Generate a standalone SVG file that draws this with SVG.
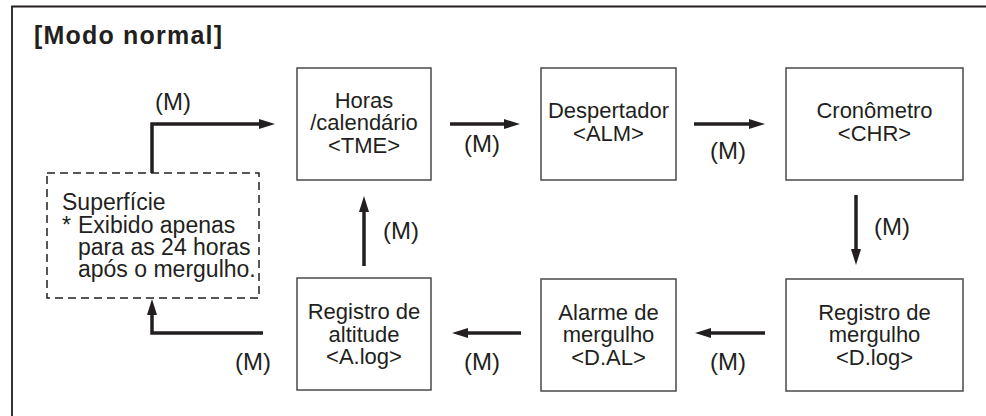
<svg xmlns="http://www.w3.org/2000/svg" width="986" height="416" viewBox="0 0 986 416">
<defs>
<marker id="ah" markerUnits="userSpaceOnUse" markerWidth="16" markerHeight="10" refX="8" refY="5" orient="auto">
<path d="M0,0 L16,5 L0,10 z" fill="#231f20"/>
</marker>
<style>
.t{font-family:"Liberation Sans",Arial,sans-serif;font-size:22px;fill:#231f20;text-anchor:middle}
.d{font-family:"Liberation Sans",Arial,sans-serif;font-size:23px;fill:#231f20}
.m{font-family:"Liberation Sans",Arial,sans-serif;font-size:24px;fill:#231f20;text-anchor:middle}
.b{fill:#fff;stroke:#4a4a4a;stroke-width:1.5}
.c{fill:none;stroke:#231f20;stroke-width:3.5;stroke-linejoin:miter;marker-end:url(#ah)}
</style>
</defs>
<rect width="986" height="416" fill="#fff"/>
<path d="M12,416 V6.5 H986" fill="none" stroke="#231f20" stroke-width="1.8"/>
<text x="34" y="44" font-family="Liberation Sans,Arial,sans-serif" font-size="25" font-weight="bold" letter-spacing="1.2" fill="#231f20">[Modo normal]</text>

<g id="connectors">
<path class="c" d="M152,173 V124 H267"/>
<path class="c" d="M450,124 H512"/>
<path class="c" d="M694,124 H757"/>
<path class="c" d="M856,195 V257"/>
<path class="c" d="M765,333 H703"/>
<path class="c" d="M521,333 H460"/>
<path class="c" d="M263,333 H152 V307"/>
<path class="c" d="M364,266 V204"/>
<text class="m" x="173" y="110">(M)</text>
<text class="m" x="482" y="152">(M)</text>
<text class="m" x="728" y="159">(M)</text>
<text class="m" x="892" y="235">(M)</text>
<text class="m" x="728" y="370">(M)</text>
<text class="m" x="482" y="370">(M)</text>
<text class="m" x="253" y="370">(M)</text>
<text class="m" x="401" y="239">(M)</text>
</g>

<g id="surface">
<rect x="47" y="173" width="212" height="125" fill="#fff" stroke="#231f20" stroke-width="1.5" stroke-dasharray="8 5"/>
<text class="d"><tspan x="62" y="210">Superfície</tspan><tspan x="62" y="233">* </tspan><tspan x="78" y="233">Exibido apenas</tspan><tspan x="78" y="255">para as 24 horas</tspan><tspan x="78" y="277">após o mergulho.</tspan></text>
</g>

<g id="tme">
<rect class="b" x="297" y="68" width="134" height="112"/>
<text class="t"><tspan x="364" y="107.5">Horas</tspan><tspan x="364" y="130">/calendário</tspan><tspan x="364" y="152.5">&lt;TME&gt;</tspan></text>
</g>

<g id="alm">
<rect class="b" x="541" y="68" width="135" height="112"/>
<text class="t"><tspan x="608.5" y="118">Despertador</tspan><tspan x="608.5" y="141">&lt;ALM&gt;</tspan></text>
</g>

<g id="chr">
<rect class="b" x="786" y="68" width="177" height="112"/>
<text class="t"><tspan x="874.5" y="118">Cronômetro</tspan><tspan x="874.5" y="141">&lt;CHR&gt;</tspan></text>
</g>

<g id="dlog">
<rect class="b" x="786" y="279" width="177" height="112"/>
<text class="t"><tspan x="874.5" y="320">Registro de</tspan><tspan x="874.5" y="342">mergulho</tspan><tspan x="874.5" y="365">&lt;D.log&gt;</tspan></text>
</g>

<g id="dal">
<rect class="b" x="541" y="279" width="135" height="112"/>
<text class="t"><tspan x="608.5" y="320">Alarme de</tspan><tspan x="608.5" y="342">mergulho</tspan><tspan x="608.5" y="365">&lt;D.AL&gt;</tspan></text>
</g>

<g id="alog">
<rect class="b" x="297" y="278" width="134" height="112"/>
<text class="t"><tspan x="364" y="319">Registro de</tspan><tspan x="364" y="341.5">altitude</tspan><tspan x="364" y="364">&lt;A.log&gt;</tspan></text>
</g>
</svg>
